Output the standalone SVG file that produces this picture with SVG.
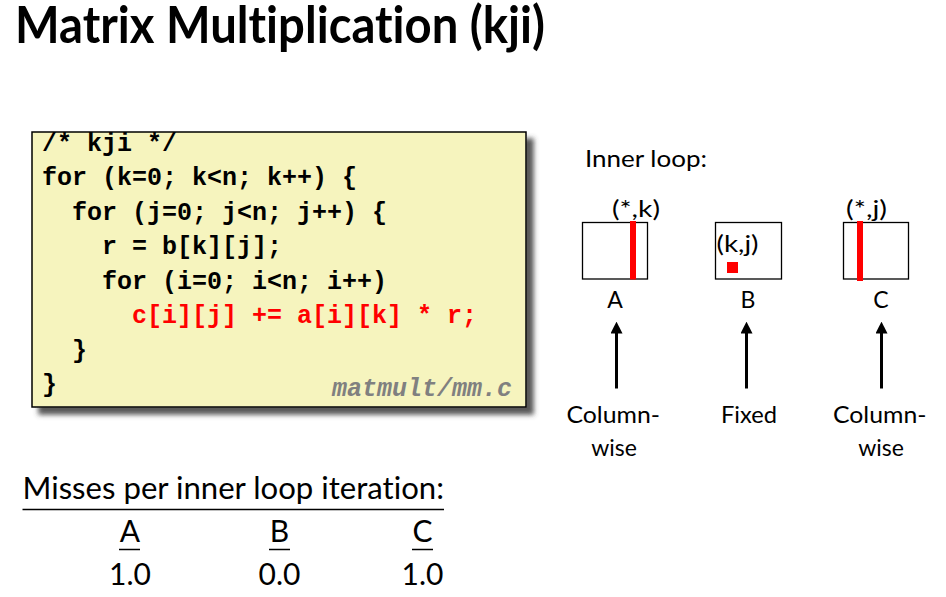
<svg xmlns="http://www.w3.org/2000/svg" width="946" height="597" viewBox="0 0 946 597">
<style>
.t{font-family:Lato,"Open Sans","Liberation Sans",sans-serif;fill:#000;font-variant-ligatures:none}
.code{font-family:"Liberation Mono","Courier New",monospace;font-weight:bold;font-size:25px;fill:#000}
.red{fill:#FF0000}
.mat{fill:#fff;stroke:#000;stroke-width:1.3}
.bar{fill:#FF0000}
.arr{stroke:#000;stroke-width:3;fill:none;marker-end:url(#ah)}
.ul{stroke:#000;stroke-width:1.5}
</style>
<defs>
<marker id="ah" markerWidth="4" markerHeight="4" refX="2.2" refY="2" orient="auto" markerUnits="strokeWidth">
<path d="M0,0 L4,2 L0,4 z" fill="#000"/>
</marker>
<filter id="sh" x="-5%" y="-5%" width="115%" height="120%">
<feDropShadow dx="7" dy="7" stdDeviation="2.5" flood-color="#444" flood-opacity="0.9"/>
</filter>
</defs>
<rect width="946" height="597" fill="#fff"/>
<text id="title" class="t" x="15" y="43" font-size="51" font-weight="bold" textLength="530" lengthAdjust="spacingAndGlyphs">Matrix Multiplication (kji)</text>

<g id="code">
<rect x="32" y="132" width="494" height="275" fill="#F6F4BE" stroke="#000" stroke-width="1.5" filter="url(#sh)"/>
<text class="code" x="42" y="150.5">/* kji */</text>
<text class="code" x="42" y="185">for (k=0; k&lt;n; k++) {</text>
<text class="code" x="72" y="219.5">for (j=0; j&lt;n; j++) {</text>
<text class="code" x="102" y="254">r = b[k][j];</text>
<text class="code" x="102" y="288.5">for (i=0; i&lt;n; i++)</text>
<text class="code red" x="132" y="323">c[i][j] += a[i][k] * r;</text>
<text class="code" x="72" y="357.5">}</text>
<text class="code" x="42" y="392">}</text>
<text class="code" x="512" y="396" text-anchor="end" font-style="italic" style="fill:#808080">matmult/mm.c</text>
</g>

<text id="inner" class="t" x="585" y="166.5" font-size="23" textLength="122" lengthAdjust="spacingAndGlyphs">Inner loop:</text>

<g id="matA">
<rect class="mat" x="582.5" y="222.5" width="65" height="56.5"/>
<rect class="bar" x="630" y="221" width="6" height="58.5"/>
<text class="t" x="612" y="217" font-size="23" textLength="48" lengthAdjust="spacingAndGlyphs">(*,k)</text>
<text class="t" x="615" y="308" font-size="23" text-anchor="middle">A</text>
</g>
<g id="matB">
<rect class="mat" x="715.5" y="222.5" width="66" height="56.5"/>
<rect class="bar" x="727" y="262" width="11" height="11"/>
<text class="t" x="716.5" y="252" font-size="23" textLength="42" lengthAdjust="spacingAndGlyphs">(k,j)</text>
<text class="t" x="748" y="308" font-size="23" text-anchor="middle">B</text>
</g>
<g id="matC">
<rect class="mat" x="843.5" y="222.5" width="65" height="56.5"/>
<rect class="bar" x="857" y="221" width="6" height="60"/>
<text class="t" x="846" y="217" font-size="23" textLength="41" lengthAdjust="spacingAndGlyphs">(*,j)</text>
<text class="t" x="881" y="308" font-size="23" text-anchor="middle">C</text>
</g>

<g id="connectors">
<line class="arr" x1="616.5" y1="388.5" x2="616.5" y2="327"/>
<line class="arr" x1="746.5" y1="388.5" x2="746.5" y2="327"/>
<line class="arr" x1="881.5" y1="388.5" x2="881.5" y2="327"/>
</g>

<g id="lblA">
<text class="t" x="566.5" y="422.5" font-size="23" textLength="93.5" lengthAdjust="spacingAndGlyphs">Column-</text>
<text class="t" x="614" y="456" font-size="23" text-anchor="middle">wise</text>
</g>
<g id="lblB">
<text class="t" x="721" y="422.5" font-size="23" textLength="56" lengthAdjust="spacingAndGlyphs">Fixed</text>
</g>
<g id="lblC">
<text class="t" x="833" y="422.5" font-size="23" textLength="93.5" lengthAdjust="spacingAndGlyphs">Column-</text>
<text class="t" x="881" y="456" font-size="23" text-anchor="middle">wise</text>
</g>

<g id="misses">
<text class="t" x="22.5" y="498.5" font-size="31" textLength="421.5" lengthAdjust="spacingAndGlyphs">Misses per inner loop iteration:</text>
<line class="ul" x1="22.5" y1="509.5" x2="444" y2="509.5"/>
<text class="t" x="130" y="542" font-size="30" text-anchor="middle">A</text>
<line class="ul" x1="119" y1="549.5" x2="140" y2="549.5"/>
<text class="t" x="279.5" y="542" font-size="30" text-anchor="middle">B</text>
<line class="ul" x1="269" y1="549.5" x2="290" y2="549.5"/>
<text class="t" x="422.5" y="542" font-size="30" text-anchor="middle">C</text>
<line class="ul" x1="412" y1="549.5" x2="433" y2="549.5"/>
<text class="t" x="130" y="585" font-size="30" text-anchor="middle">1.0</text>
<text class="t" x="279.5" y="585" font-size="30" text-anchor="middle">0.0</text>
<text class="t" x="422.5" y="585" font-size="30" text-anchor="middle">1.0</text>
</g>
</svg>
